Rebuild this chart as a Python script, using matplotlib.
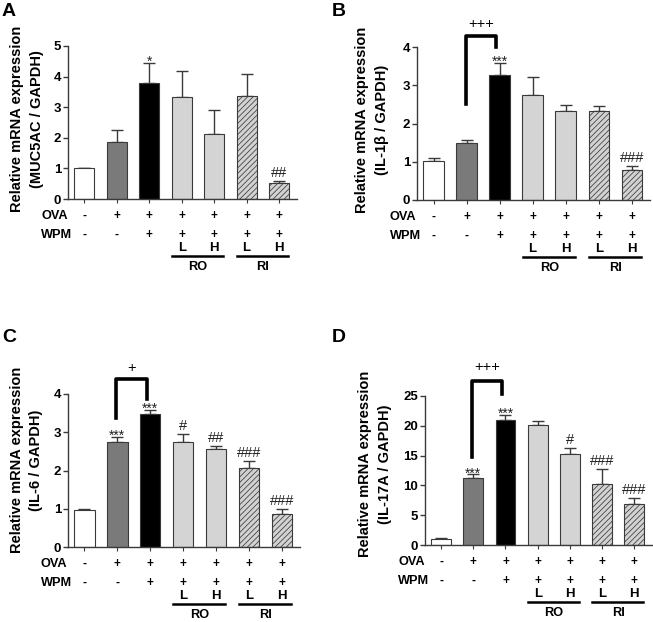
import matplotlib
matplotlib.use('Agg')
import matplotlib.pyplot as plt
from matplotlib.transforms import offset_copy

plt.rcParams['font.family'] = ['Liberation Sans', 'DejaVu Sans']
plt.rcParams['hatch.linewidth'] = 0.55

# values (mean, upper SEM)
muc5ac_mean = [1.01, 1.86, 3.78, 3.33, 2.11, 3.35, 0.52]
muc5ac_err = [0.0, 0.40, 0.68, 0.85, 0.79, 0.72, 0.06]
il1b_mean = [1.03, 1.50, 3.28, 2.75, 2.32, 2.32, 0.78]
il1b_err = [0.06, 0.06, 0.30, 0.47, 0.16, 0.14, 0.12]
il6_mean = [0.98, 2.74, 3.47, 2.74, 2.56, 2.06, 0.85]
il6_err = [0.02, 0.14, 0.11, 0.22, 0.08, 0.19, 0.14]
il17a_mean = [1.0, 11.25, 21.05, 20.1, 15.31, 10.24, 6.85]
il17a_err = [0.15, 0.60, 0.83, 0.67, 0.89, 2.51, 1.00]

ova_row = ['-', '+', '+', '+', '+', '+', '+']
wpm_row = ['-', '-', '+', '+', '+', '+', '+']
dose_row = ['', '', '', 'L', 'H', 'L', 'H']

muc5ac_sig = {2: '*', 6: '##'}
il1b_sig = {2: '***', 6: '###'}
il6_sig = {1: '***', 2: '***', 3: '#', 4: '##', 5: '###', 6: '###'}
il17a_sig = {1: '***', 2: '***', 4: '#', 5: '###', 6: '###'}

# bracket: (left bottom, top, right bottom, label y, label)
il1b_bracket = (2.52, 4.28, 4.0, 4.59, '+++')
il6_bracket = (3.37, 4.39, 3.87, 4.68, '+')
il17a_bracket = (14.8, 27.6, 25.4, 29.8, '+++')

colors = ['white', '#7a7a7a', 'black', '#d4d4d4', '#d4d4d4', '#d2d2d2', '#d2d2d2']
hatches = [None, None, None, None, None, '//////', '//////']

W, H = 653, 622
fig = plt.figure(figsize=(W / 100, H / 100), dpi=100)


def px_axes(l, r, b, t):
    return fig.add_axes([l / W, 1 - b / H, (r - l) / W, (b - t) / H])


def panel(ax, mean, err, ymax, ystep, sig, bracket, letter, lpos, ylab, ylpos):
    x = list(range(len(mean)))
    for i in x:
        ax.bar(i, mean[i], width=0.62, color=colors[i], edgecolor='#3a3a3a',
               linewidth=0.8, hatch=hatches[i], zorder=2)
    ax.errorbar(x, mean, yerr=[[0] * len(err), err], fmt='none', ecolor='#3a3a3a',
                elinewidth=1.0, capsize=4.2, capthick=1.0, zorder=1)
    ax.set_xlim(-0.5, 6.55)
    ax.set_ylim(0, ymax)
    ax.set_yticks(range(0, ymax + 1, ystep))
    ax.set_xticks(x)
    ax.set_xticklabels([])
    for s in ['top', 'right']:
        ax.spines[s].set_visible(False)
    for s in ['left', 'bottom']:
        ax.spines[s].set_color('#3a3a3a')
        ax.spines[s].set_linewidth(1.0)
    ax.tick_params(axis='y', length=3.5, width=1.0, color='#3a3a3a', pad=1.5,
                   labelsize=9.5)
    ax.tick_params(axis='x', length=3, width=0.8, color='#3a3a3a')
    for lab in ax.get_yticklabels():
        lab.set_fontweight('bold')

    # significance marks
    for i, txt in sig.items():
        top = mean[i] + err[i]
        if '*' in txt:
            ax.annotate(txt, (i, top), xytext=(0, -3), textcoords='offset pixels',
                        ha='center', va='baseline', fontsize=10, color='#222')
        else:
            ax.annotate(txt, (i, top), xytext=(0, 8), textcoords='offset pixels',
                        ha='center', va='center', fontsize=10.5, color='#222')

    if bracket:
        lb, tp, rb, ly, ltxt = bracket
        ax.plot([0.97, 0.97, 1.9, 1.9], [lb, tp, tp, rb], color='black', lw=2.6,
                solid_joinstyle='round', clip_on=False, zorder=3)
        ax.text(1.43, ly, ltxt, ha='center', va='center', fontsize=10.5, clip_on=False)

    # treatment rows beneath the axis
    xt = ax.get_xaxis_transform()
    for name, row, off in [('OVA', ova_row, 17), ('WPM', wpm_row, 36)]:
        ax.annotate(name, (-1.33, 0), xycoords=xt, xytext=(0, -off),
                    textcoords='offset pixels', ha='left', va='center',
                    fontsize=9.2, fontweight='bold')
        for i, v in enumerate(row):
            ax.annotate(v, (i, 0), xycoords=xt, xytext=(0, -off),
                        textcoords='offset pixels', ha='center', va='center',
                        fontsize=8.5, fontweight='bold')
    for i, v in enumerate(dose_row):
        if v:
            ax.annotate(v, (i, 0), xycoords=xt, xytext=(0, -49),
                        textcoords='offset pixels', ha='center', va='center',
                        fontsize=9.5, fontweight='bold')
    line_tr = offset_copy(xt, fig=fig, y=-57, units='dots')
    for a, name in [(3, 'RO'), (5, 'RI')]:
        ax.plot([a - 0.3, a + 1.27], [0, 0], color='black', lw=1.8,
                transform=line_tr, clip_on=False)
        ax.annotate(name, (a + 0.5, 0), xycoords=xt, xytext=(0, -68),
                    textcoords='offset pixels', ha='center', va='center',
                    fontsize=9.2, fontweight='bold')

    fig.text(lpos[0] / W, 1 - lpos[1] / H, letter, fontsize=14, fontweight='bold',
             ha='center', va='center')
    fig.text(ylpos[0] / W, 1 - ylpos[1] / H, ylab, fontsize=10.5, fontweight='bold',
             rotation=90, ha='center', va='center', linespacing=1.5)


axA = px_axes(68, 297, 199, 46)
panel(axA, muc5ac_mean, muc5ac_err, 5, 1, muc5ac_sig, None, 'A', (9, 12),
      'Relative mRNA expression\n(MUC5AC / GAPDH)', (27, 119))

axB = px_axes(417, 650, 200, 47)
panel(axB, il1b_mean, il1b_err, 4, 1, il1b_sig, il1b_bracket, 'B', (339, 12),
      'Relative mRNA expression\n(IL-1β / GAPDH)', (372, 120))

axC = px_axes(68, 300, 547, 394)
panel(axC, il6_mean, il6_err, 4, 1, il6_sig, il6_bracket, 'C', (9, 338),
      'Relative mRNA expression\n(IL-6 / GAPDH)', (26.5, 460))

axD = px_axes(425, 652, 545, 396)
panel(axD, il17a_mean, il17a_err, 25, 5, il17a_sig, il17a_bracket, 'D', (339, 338),
      'Relative mRNA expression\n(IL-17A / GAPDH)', (375, 464))

fig.savefig('out.png', dpi=100)
